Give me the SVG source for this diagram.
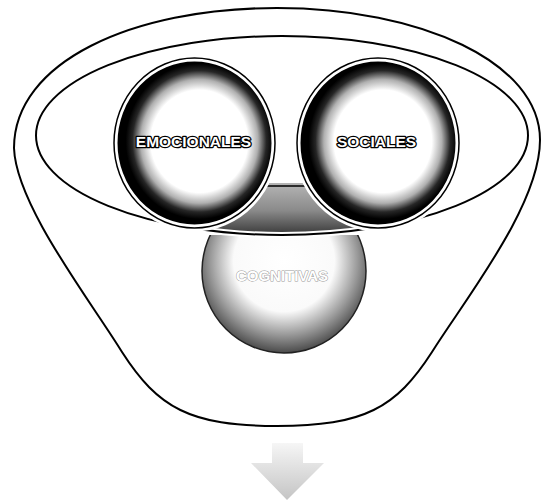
<svg xmlns="http://www.w3.org/2000/svg" width="541" height="501" viewBox="0 0 541 501">
<defs>
<style>
.line{fill:none;stroke:#000;stroke-width:2}
.gap{fill:none;stroke:#fff;stroke-width:6}
.lbl{font-family:"Liberation Sans",Arial,sans-serif;font-weight:bold;text-anchor:middle;paint-order:stroke;stroke-linejoin:round}
.lbl-main{font-size:15.5px;fill:#fff;stroke:#000;stroke-width:2.6}
.lbl-cog{font-size:15px;fill:#fff;stroke:#9a9a9a;stroke-width:1}
</style>
<radialGradient id="gDark" cx="0.53" cy="0.49" r="0.52">
<stop offset="0" stop-color="#fff"/>
<stop offset="0.58" stop-color="#fff"/>
<stop offset="0.7" stop-color="#b0b0b0"/>
<stop offset="0.8" stop-color="#262626"/>
<stop offset="0.88" stop-color="#000"/>
<stop offset="1" stop-color="#000"/>
</radialGradient>
<radialGradient id="gCog" cx="0.5" cy="0.44" r="0.56">
<stop offset="0" stop-color="#fff"/>
<stop offset="0.55" stop-color="#fafafa"/>
<stop offset="0.8" stop-color="#9a9a9a"/>
<stop offset="1" stop-color="#4a4a4a"/>
</radialGradient>
<linearGradient id="gCap" x1="0" y1="0" x2="0" y2="1">
<stop offset="0" stop-color="#b5b5b5"/>
<stop offset="0.5" stop-color="#8a8a8a"/>
<stop offset="1" stop-color="#2e2e2e"/>
</linearGradient>
<linearGradient id="gArrow" x1="0" y1="0" x2="0" y2="1">
<stop offset="0" stop-color="#f6f6f6"/>
<stop offset="1" stop-color="#c4c4c4"/>
</linearGradient>
<clipPath id="inEll"><ellipse cx="282" cy="135.5" rx="246" ry="99.5"/></clipPath>
<clipPath id="outEll"><rect x="0" y="235" width="541" height="200"/></clipPath>
</defs>
<rect width="541" height="501" fill="#fff"/>
<g id="funnel">
<path class="line" d="M 14,148 C 16,205 90,300 122,352 C 158,408 190,426 277,426 C 364,426 396,408 432,352 C 466,298 540,205 540,140 C 540,62 420,8 277,8 C 132,8 14,62 14,148 Z"/>
</g>
<g id="cognitivas">
<g clip-path="url(#outEll)">
<circle cx="284" cy="271" r="82" fill="url(#gCog)" stroke="#222" stroke-width="1.5"/>
</g>
<g clip-path="url(#inEll)">
<rect x="200" y="183" width="170" height="55" fill="url(#gCap)"/>
<path d="M 262,186 L 306,186" stroke="#000" stroke-width="1.5"/>
</g>
<text class="lbl lbl-cog" x="282" y="281">COGNITIVAS</text>
</g>
<g id="grupo">
<ellipse class="gap" cx="282" cy="135.5" rx="246" ry="99.5" stroke-width="7"/>
<ellipse class="line" cx="282" cy="135.5" rx="246" ry="99.5"/>
</g>
<g id="emocionales">
<ellipse cx="194.5" cy="143" rx="80.5" ry="85" fill="url(#gDark)" stroke="#fff" stroke-width="7"/>
<ellipse cx="194.5" cy="143" rx="80.5" ry="85" fill="none" stroke="#000" stroke-width="1.5"/>
<text class="lbl lbl-main" x="193.5" y="146.5">EMOCIONALES</text>
</g>
<g id="sociales">
<ellipse cx="378" cy="143" rx="81" ry="85" fill="url(#gDark)" stroke="#fff" stroke-width="7"/>
<ellipse cx="378" cy="143" rx="81" ry="85" fill="none" stroke="#000" stroke-width="1.5"/>
<text class="lbl lbl-main" x="376.5" y="146.5">SOCIALES</text>
</g>
<g id="flecha">
<path d="M 272,443 L 303,443 L 303,463 L 324,463 L 287,500 L 251,463 L 272,463 Z" fill="url(#gArrow)"/>
</g>
</svg>
